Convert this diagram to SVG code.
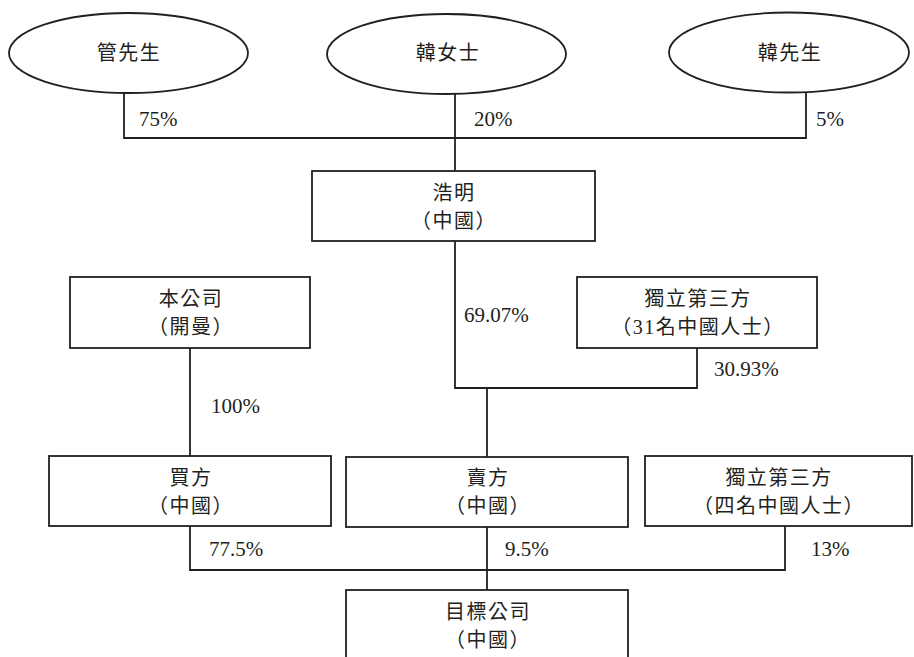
<svg xmlns="http://www.w3.org/2000/svg" width="914" height="657" viewBox="0 0 914 657">
<style>
.shape{fill:#ffffff;stroke:#231f20;stroke-width:1.8}
.conn{fill:none;stroke:#231f20;stroke-width:1.8}
.cjk{font-family:"Liberation Serif","Noto Sans CJK TC",serif;font-size:20px;letter-spacing:1.5px;fill:#231f20;text-anchor:middle}
.pct{font-family:"Liberation Serif",serif;font-size:21px;fill:#231f20}
</style>
<rect width="914" height="657" fill="#ffffff"/>
<g id="connectors">
<path class="conn" d="M124,93 V138 H806 V92"/>
<path class="conn" d="M455,94 V171"/>
<path class="conn" d="M455,241 V388 H697 V348"/>
<path class="conn" d="M487,388 V457"/>
<path class="conn" d="M190,348 V456"/>
<path class="conn" d="M190,526 V570 H785 V526"/>
<path class="conn" d="M487,527 V590"/>
</g>
<g id="labels">
<text class="pct" x="139" y="126">75%</text>
<text class="pct" x="474" y="126">20%</text>
<text class="pct" x="816" y="126">5%</text>
<text class="pct" x="464" y="322">69.07%</text>
<text class="pct" x="714" y="376">30.93%</text>
<text class="pct" x="211" y="413">100%</text>
<text class="pct" x="209" y="556">77.5%</text>
<text class="pct" x="505" y="556">9.5%</text>
<text class="pct" x="811" y="556">13%</text>
</g>
<g id="mr-guan">
<ellipse class="shape" cx="128.5" cy="53" rx="119.5" ry="40"/>
<text class="cjk" x="129" y="60">管先生</text>
</g>
<g id="ms-han">
<ellipse class="shape" cx="446.5" cy="54" rx="119.5" ry="40"/>
<text class="cjk" x="448" y="60">韓女士</text>
</g>
<g id="mr-han">
<ellipse class="shape" cx="789" cy="52.5" rx="120" ry="40"/>
<text class="cjk" x="790" y="60">韓先生</text>
</g>
<g id="haoming">
<rect class="shape" x="312" y="171" width="283" height="70"/>
<text class="cjk" x="454" y="200">浩明</text>
<text class="cjk" x="454" y="228">（中國）</text>
</g>
<g id="company">
<rect class="shape" x="70" y="277" width="240" height="71"/>
<text class="cjk" x="191" y="306">本公司</text>
<text class="cjk" x="191" y="334">（開曼）</text>
</g>
<g id="third-party-31">
<rect class="shape" x="577" y="277" width="240" height="71"/>
<text class="cjk" x="698" y="306">獨立第三方</text>
<text class="cjk" x="698" y="334">（31名中國人士）</text>
</g>
<g id="buyer">
<rect class="shape" x="49" y="456" width="282" height="70"/>
<text class="cjk" x="191" y="485">買方</text>
<text class="cjk" x="191" y="513">（中國）</text>
</g>
<g id="seller">
<rect class="shape" x="346" y="457" width="282" height="70"/>
<text class="cjk" x="488" y="485">賣方</text>
<text class="cjk" x="488" y="513">（中國）</text>
</g>
<g id="third-party-4">
<rect class="shape" x="645" y="456" width="267" height="70"/>
<text class="cjk" x="779" y="485">獨立第三方</text>
<text class="cjk" x="779" y="513">（四名中國人士）</text>
</g>
<g id="target">
<rect class="shape" x="346" y="590" width="282" height="80"/>
<text class="cjk" x="488" y="619">目標公司</text>
<text class="cjk" x="488" y="647">（中國）</text>
</g>
</svg>
